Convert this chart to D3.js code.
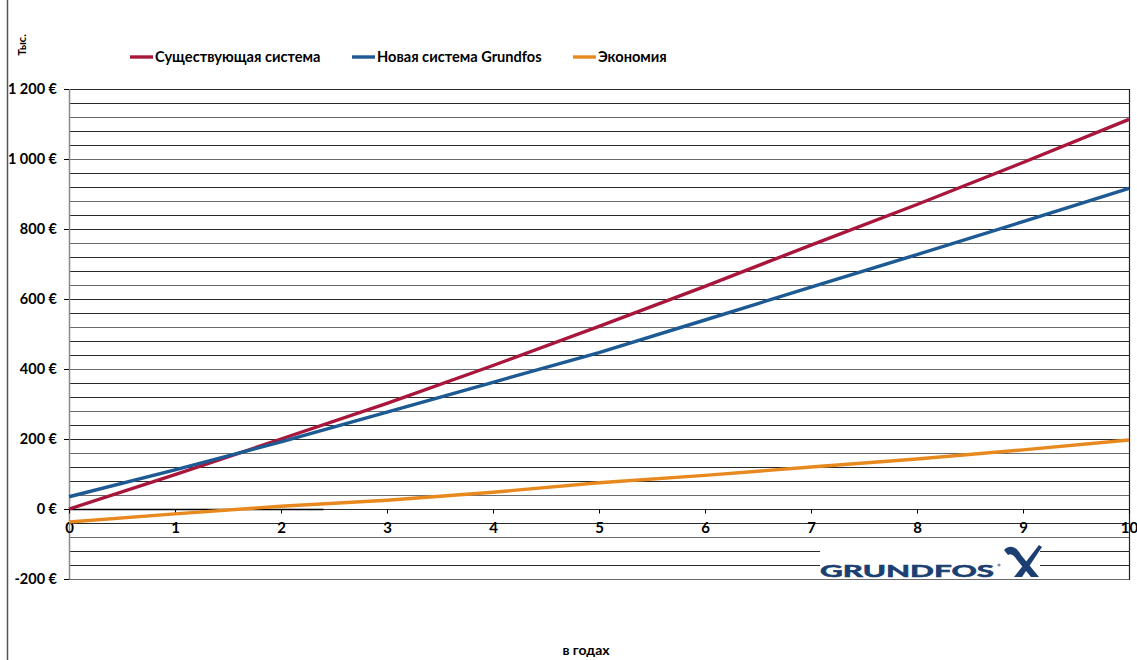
<!DOCTYPE html>
<html lang="ru">
<head>
<meta charset="utf-8">
<script src="https://cdn.jsdelivr.net/npm/d3@7"></script>
<style>
  html, body { margin: 0; padding: 0; background: #fff; }
  svg { display: block; }
  text { font-family: Lato, "Open Sans", "DejaVu Sans", sans-serif; font-weight: 700; fill: #000; }
</style>
</head>
<body>
<svg id="chart" width="1137" height="660"></svg>
<script>
// Cumulative costs in thousands of euros, by year
const years = [0, 1, 2, 3, 4, 5, 6, 7, 8, 9, 10];
const existingSystem = [0, 98, 200, 302, 410, 522, 636, 754, 870, 990, 1113];
const grundfosSystem = [35, 112, 192, 277, 362, 447, 540, 634, 727, 821, 916];
const savings = [-37, -14, 8, 25, 48, 75, 96, 120, 143, 169, 197];

const seriesNames = ["Существующая система", "Новая система Grundfos", "Экономия"];
const seriesColors = ["#A8173B", "#1D5A93", "#E8891F"];
const yTickValues = [-200, 0, 200, 400, 600, 800, 1000, 1200];
const xTickValues = [0, 1, 2, 3, 4, 5, 6, 7, 8, 9, 10];
const yUnitLabel = "Тыс.";
const xAxisTitle = "в годах";
const brandName = "GRUNDFOS";

(function draw() {
  const svg = d3.select("#chart");
  const plotLeft = 69, plotRight = 1129, plotTop = 89, plotBottom = 579;

  const x = d3.scaleLinear().domain([0, 10]).range([plotLeft, plotRight]);
  const y = d3.scaleLinear().domain([-200, 1200]).range([plotBottom, plotTop]);

  // Outer frame line on the left of the sheet
  svg.append("line")
    .attr("x1", 7.5).attr("x2", 7.5).attr("y1", 0).attr("y2", 660)
    .attr("stroke", "#555").attr("stroke-width", 1.5);

  // Horizontal gridlines every 40
  const gridValues = d3.range(-200, 1201, 40);
  svg.append("g")
    .selectAll("line")
    .data(gridValues)
    .join("line")
    .attr("x1", plotLeft).attr("x2", plotRight)
    .attr("y1", d => Math.round(y(d)) + 0.5)
    .attr("y2", d => Math.round(y(d)) + 0.5)
    .attr("stroke", (d, i) => i % 3 === 0 ? "#6a6a6a" : "#2a2a2a")
    .attr("stroke-width", 1.2);

  // Plot borders
  svg.append("line")
    .attr("x1", plotLeft + 0.5).attr("x2", plotLeft + 0.5).attr("y1", plotTop).attr("y2", plotBottom)
    .attr("stroke", "#8a8a8a").attr("stroke-width", 1.5);
  svg.append("line")
    .attr("x1", plotRight + 0.5).attr("x2", plotRight + 0.5).attr("y1", plotTop).attr("y2", plotBottom + 1)
    .attr("stroke", "#222").attr("stroke-width", 1.2);

  // Y axis
  const fmt = d => {
    const s = Math.abs(d).toString().replace(/\B(?=(\d{3})+(?!\d))/g, " ");
    return (d < 0 ? "-" : "") + s + " €";
  };
  const yAxis = svg.append("g")
    .attr("transform", `translate(${plotLeft},0)`)
    .call(d3.axisLeft(y).tickValues(yTickValues).tickSize(5).tickPadding(7).tickFormat(fmt));
  yAxis.select(".domain").remove();
  yAxis.selectAll(".tick line").attr("stroke", "#000");
  yAxis.selectAll(".tick text")
    .attr("font-size", 14.5).attr("font-family", null).attr("fill", "#000");

  // X axis: tick marks along zero, short axis stroke
  const zeroY = Math.round(y(0)) + 0.5;
  svg.append("line")
    .attr("x1", x(0)).attr("x2", x(2.4)).attr("y1", zeroY).attr("y2", zeroY)
    .attr("stroke", "#000").attr("stroke-width", 1.6);
  const xAxis = svg.append("g")
    .attr("transform", `translate(0,${zeroY})`)
    .call(d3.axisBottom(x).tickValues(xTickValues).tickSize(4).tickPadding(9).tickFormat(d3.format("d")));
  xAxis.select(".domain").remove();
  xAxis.selectAll(".tick line").attr("stroke", "#000");
  xAxis.selectAll(".tick text").attr("font-size", 15).attr("font-family", null).attr("fill", "#000");

  // Series lines
  const seriesData = [existingSystem, grundfosSystem, savings];
  const line = d3.line().x((d, i) => x(years[i])).y(d => y(d));
  svg.append("g")
    .selectAll("path")
    .data(seriesData)
    .join("path")
    .attr("d", line)
    .attr("fill", "none")
    .attr("stroke", (d, i) => seriesColors[i])
    .attr("stroke-width", 3.4)
    .attr("stroke-linecap", "butt");

  // Legend
  const legendX = [130, 352, 573];
  const legend = svg.append("g");
  seriesNames.forEach((name, i) => {
    legend.append("line")
      .attr("x1", legendX[i]).attr("x2", legendX[i] + 23)
      .attr("y1", 57).attr("y2", 57)
      .attr("stroke", seriesColors[i]).attr("stroke-width", 3.4);
    legend.append("text")
      .attr("x", legendX[i] + 25).attr("y", 62)
      .attr("font-size", 14.6)
      .text(name);
  });

  // Unit label
  svg.append("text")
    .attr("transform", "translate(26,45) rotate(-90)")
    .attr("text-anchor", "middle")
    .attr("font-size", 11)
    .text(yUnitLabel);

  // X axis title
  svg.append("text")
    .attr("x", 586).attr("y", 655)
    .attr("text-anchor", "middle")
    .attr("font-size", 14)
    .text(xAxisTitle);

  // Brand logo
  const logo = svg.append("g").attr("transform", "translate(820,541)");
  logo.append("rect").attr("x", 0).attr("y", 0).attr("width", 220).attr("height", 36).attr("fill", "#fff");
  logo.append("text")
    .attr("x", 0).attr("y", 36)
    .attr("font-family", "'DejaVu Sans', sans-serif")
    .attr("font-weight", 900)
    .attr("font-size", 17.5)
    .attr("textLength", 174)
    .attr("lengthAdjust", "spacingAndGlyphs")
    .style("fill", "#1B3F72")
    .style("stroke", "#1B3F72")
    .style("stroke-width", 0.6)
    .text(brandName);
  logo.append("circle").attr("cx", 179).attr("cy", 24).attr("r", 1.6).attr("fill", "#8090a8");
  // stylised emblem
  logo.append("path")
    .attr("d", "M184,9 C190,3 197,6 201,14 L219,36 L211,36 L197,19 C194,14 191,12 188,14 Z")
    .attr("fill", "#1B3F72");
  logo.append("path")
    .attr("d", "M219,4 L222,6 L202,36 L194,36 L205,22 Z")
    .attr("fill", "#1B3F72");
})();
</script>
</body>
</html>
